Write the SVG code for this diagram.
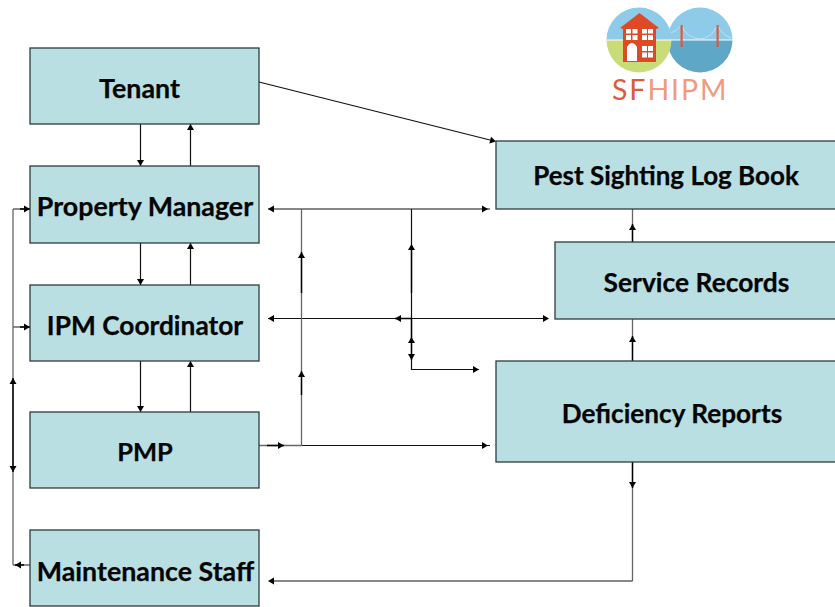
<svg xmlns="http://www.w3.org/2000/svg" width="835" height="607" viewBox="0 0 835 607">
<style>
.box{fill:#b9dfe3;stroke:#2f3b3d;stroke-width:1.3}
.t{font-family:"Lato","Liberation Sans",sans-serif;font-weight:700;font-size:26.800px;fill:#050505;stroke:#050505;stroke-width:.25;text-anchor:middle}
.c{fill:none;stroke:#111;stroke-width:1.200}
.g{fill:none;stroke:#666;stroke-width:1.300}
.k{fill:none;stroke:#000;stroke-width:1.400}
.h{fill:#000}
.w{fill:#fff}
.r{fill:#dd4a26}
.logo{font-family:"Lato","Liberation Sans",sans-serif;font-weight:400;font-size:28.500px;letter-spacing:1.900px}
</style>
<defs>
<path id="ar" d="M0 0L-6 -3.500V3.500Z" class="h"/>
<clipPath id="cl"><circle cx="639" cy="40" r="32.500"/></clipPath>
<clipPath id="cr"><circle cx="700" cy="40" r="32.500"/></clipPath>
</defs>
<rect width="835" height="607" fill="#fff"/>
<g id="connectors">
<path class="c" d="M259 82L490 140"/>
<path class="c" d="M140.500 124V166M190.500 124V166M140.500 243V285M190.500 243V285M140.500 361V412M190.500 361V412"/>
<path class="c" d="M268 209H490M268 318.500H548M411.500 209V369.500H479M301.500 445.500H490"/>
<path class="g" d="M301.500 209V445.500M259 445.500H301.500M632.500 209V242M632.500 319V361M632.500 462V581M13 209V565M13 209H30M13 565H30M13 327H30"/>
<path class="c" d="M632.500 581H270"/>
<path class="k" d="M301.500 252V293M301.500 371V395M411.500 246V293M411.500 319V360M632.500 224V242M632.500 336V361M632.500 462V488M13 378V472M395 318.500H411M267 445.500H284M20 209H30M20 327H30M15 565H24"/>
<use href="#ar" transform="translate(140.500 166) rotate(90)"/>
<use href="#ar" transform="translate(190.500 124) rotate(-90)"/>
<use href="#ar" transform="translate(140.500 285) rotate(90)"/>
<use href="#ar" transform="translate(190.500 243) rotate(-90)"/>
<use href="#ar" transform="translate(140.500 412) rotate(90)"/>
<use href="#ar" transform="translate(190.500 361) rotate(-90)"/>
<use href="#ar" transform="translate(496 141.500) rotate(14)"/>
<use href="#ar" transform="translate(268 209) rotate(180)"/>
<use href="#ar" transform="translate(488 209)"/>
<use href="#ar" transform="translate(268 318.500) rotate(180)"/>
<use href="#ar" transform="translate(395 318.500) rotate(180)"/>
<use href="#ar" transform="translate(549 318.500)"/>
<use href="#ar" transform="translate(301.500 252) rotate(-90)"/>
<use href="#ar" transform="translate(301.500 371) rotate(-90)"/>
<use href="#ar" transform="translate(411.500 244) rotate(-90)"/>
<use href="#ar" transform="translate(411.500 337) rotate(-90)"/>
<use href="#ar" transform="translate(411.500 360) rotate(90)"/>
<use href="#ar" transform="translate(479 369.500)"/>
<use href="#ar" transform="translate(284 445.500)"/>
<use href="#ar" transform="translate(488 445.500)"/>
<use href="#ar" transform="translate(632.500 224) rotate(-90)"/>
<use href="#ar" transform="translate(632.500 336) rotate(-90)"/>
<use href="#ar" transform="translate(632.500 488) rotate(90)"/>
<use href="#ar" transform="translate(268 581) rotate(180)"/>
<use href="#ar" transform="translate(30 209)"/>
<use href="#ar" transform="translate(30 327)"/>
<use href="#ar" transform="translate(13 378) rotate(-90)"/>
<use href="#ar" transform="translate(13 472) rotate(90)"/>
<use href="#ar" transform="translate(15 565) rotate(180)"/>
</g>
<g id="tenant"><rect class="box" x="30" y="48" width="229" height="76"/><text class="t" x="139.500" y="97.500">Tenant</text></g>
<g id="property-manager"><rect class="box" x="30" y="166" width="229" height="77"/><text class="t" x="145" y="215.500">Property Manager</text></g>
<g id="ipm-coordinator"><rect class="box" x="30" y="285" width="229" height="76"/><text class="t" x="145" y="334.500" style="font-size:26.300px">IPM Coordinator</text></g>
<g id="pmp"><rect class="box" x="30" y="412" width="229" height="76"/><text class="t" x="145" y="461" style="font-size:25.500px">PMP</text></g>
<g id="maintenance-staff"><rect class="box" x="30" y="530" width="229" height="76"/><text class="t" x="145.500" y="580.500">Maintenance Staff</text></g>
<g id="pest-log"><rect class="box" x="496" y="141" width="345" height="68"/><text class="t" x="666" y="185" style="font-size:26px">Pest Sighting Log Book</text></g>
<g id="service-records"><rect class="box" x="555" y="242" width="286" height="77"/><text class="t" x="696.500" y="291.500" style="font-size:26.400px">Service Records</text></g>
<g id="deficiency-reports"><rect class="box" x="496" y="361" width="345" height="101"/><text class="t" x="672" y="422.500" style="font-size:26.200px">Deficiency Reports</text></g>
<g id="logo">
<g clip-path="url(#cr)"><rect x="660" y="5" width="80" height="35" fill="#8ecbe9"/><rect x="660" y="40" width="80" height="36" fill="#5fa7c6"/></g>
<g clip-path="url(#cl)"><rect x="600" y="5" width="80" height="35" fill="#8ecbe9"/><rect x="600" y="40" width="80" height="36" fill="#c9dc78"/></g>
<path d="M607 40H733" stroke="#fff" stroke-width="1"/>
<path d="M671 33Q677 31 681.500 25Q686 38 700 39Q712 38 717.500 25Q721 34 731 38" fill="none" stroke="#c3e3f3" stroke-width="1"/>
<rect x="680.500" y="25" width="2.200" height="22" fill="#dd5a3a"/><rect x="716.500" y="25" width="2.200" height="22" fill="#dd5a3a"/>
<path class="r" d="M620 28L639.500 13L659 28L656 29V62H623V29Z"/>
<path class="w" d="M626 29h5v4.500h-5zM632.500 29h5v4.500h-5zM642 29h5v4.500h-5zM648 29h5v4.500h-5zM626 35h5v5h-5zM632.500 35h5v5h-5zM642 35h5v5h-5zM648 35h5v5h-5zM642 46h5v5h-5zM648 46h5v5h-5zM642 52.500h5v5h-5zM648 52.500h5v5h-5zM627 61V47Q632 39 637 47V61Z"/>
<text class="logo" x="612" y="99.500" fill="#e0593c">SF<tspan fill="#f09a80">HIPM</tspan></text>
</g>
</svg>
